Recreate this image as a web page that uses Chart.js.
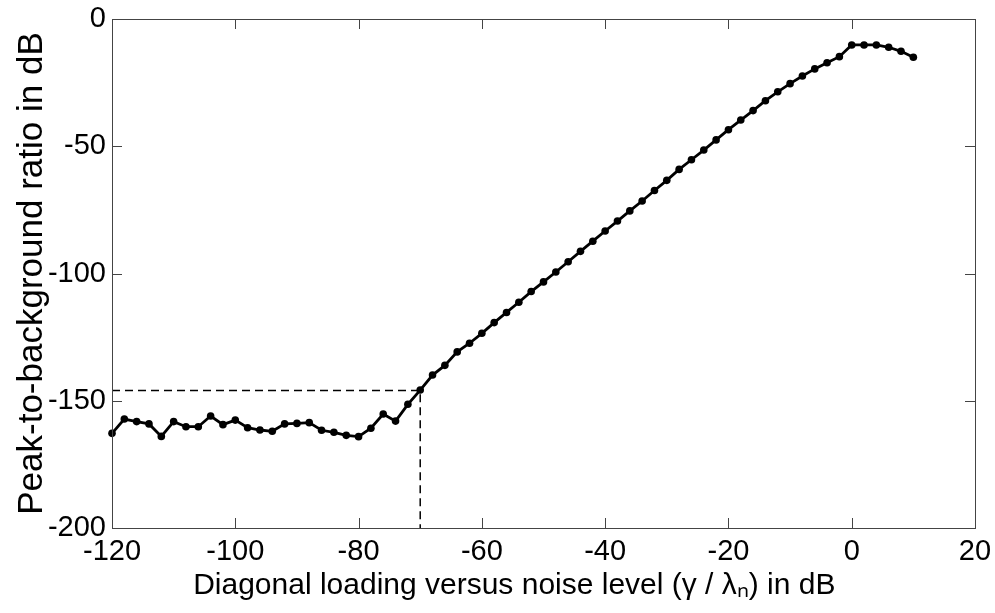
<!DOCTYPE html>
<html>
<head>
<meta charset="utf-8">
<script src="https://cdn.jsdelivr.net/npm/chart.js@4.4.1/dist/chart.umd.min.js"></script>
<style>
  html, body { margin: 0; padding: 0; background: #fff; }
  #wrap { width: 995px; height: 613px; }
</style>
</head>
<body>
<div id="wrap"><canvas id="prChart" width="995" height="613"></canvas></div>
<script>
// loading level (dB), one point every 2 dB
var loading = [-120, -118, -116, -114, -112, -110, -108, -106, -104, -102,
  -100, -98, -96, -94, -92, -90, -88, -86, -84, -82,
  -80, -78, -76, -74, -72, -70, -68, -66, -64, -62,
  -60, -58, -56, -54, -52, -50, -48, -46, -44, -42,
  -40, -38, -36, -34, -32, -30, -28, -26, -24, -22,
  -20, -18, -16, -14, -12, -10, -8, -6, -4, -2,
  0, 2, 4, 6, 8, 10];

// peak-to-background ratio (dB)
var pbr = [-162.8, -157.2, -158.2, -159.1, -164.0, -158.2, -160.2, -160.2, -156.0, -159.4,
  -157.6, -160.6, -161.5, -162.0, -159.1, -158.9, -158.6, -161.6, -162.4, -163.6,
  -164.1, -160.8, -155.2, -158.0, -151.4, -145.8, -139.9, -136.1, -130.8, -127.4,
  -123.5, -119.3, -115.3, -111.3, -107.1, -103.3, -99.4, -95.4, -91.3, -87.3,
  -83.3, -79.4, -75.4, -71.5, -67.4, -63.4, -59.1, -55.3, -51.5, -47.5,
  -43.5, -39.7, -36.0, -32.1, -28.6, -25.4, -22.4, -19.6, -17.2, -14.8,
  -10.2, -10.2, -10.2, -11.1, -12.7, -15.0];

// dashed marker lines
var markX = [-120, -70, -70];
var markY = [-146, -146, -200];

var xTicks = [-120, -100, -80, -60, -40, -20, 0, 20];
var yTicks = [0, -50, -100, -150, -200];

var sans = "'Liberation Sans', Arial, sans-serif";

var mainData = loading.map(function(x, i) { return {x: x, y: pbr[i]}; });
var markData = markX.map(function(x, i) { return {x: x, y: markY[i]}; });

// box round the plot plus inward tick marks, matlab style
var boxPlugin = {
  id: 'box',
  afterDraw: function(chart) {
    var ctx = chart.ctx, a = chart.chartArea;
    var xs = chart.scales.x, ys = chart.scales.y;
    var len = 10;
    ctx.save();
    ctx.strokeStyle = '#444';
    ctx.lineWidth = 1;
    ctx.strokeRect(a.left + 0.5, a.top + 0.5, a.right - a.left, a.bottom - a.top);
    ctx.beginPath();
    xTicks.forEach(function(v) {
      var p = Math.round(xs.getPixelForValue(v)) + 0.5;
      ctx.moveTo(p, a.bottom); ctx.lineTo(p, a.bottom - len);
      ctx.moveTo(p, a.top); ctx.lineTo(p, a.top + len);
    });
    yTicks.forEach(function(v) {
      var p = Math.round(ys.getPixelForValue(v)) + 0.5;
      ctx.moveTo(a.left, p); ctx.lineTo(a.left + len, p);
      ctx.moveTo(a.right, p); ctx.lineTo(a.right - len, p);
    });
    ctx.stroke();
    ctx.restore();
  }
};

var ctx = document.getElementById('prChart').getContext('2d');
var myChart = new Chart(ctx, {
  type: 'line',
  plugins: [boxPlugin],
  data: {
    datasets: [{
      data: mainData,
      borderColor: '#000',
      backgroundColor: '#000',
      borderWidth: 2.8,
      pointRadius: 3.8,
      pointBackgroundColor: '#000',
      pointBorderWidth: 0,
      clip: false,
      tension: 0
    }, {
      data: markData,
      borderColor: '#000',
      borderWidth: 1.5,
      borderDash: [8, 5],
      pointRadius: 0,
      tension: 0
    }]
  },
  options: {
    responsive: false,
    animation: false,
    layout: { padding: 0 },
    plugins: { legend: { display: false }, tooltip: { enabled: false } },
    scales: {
      x: {
        type: 'linear',
        min: -120,
        max: 20,
        afterFit: function(s) { s.height = 85; s.paddingRight = 20; },
        afterBuildTicks: function(s) { s.ticks = xTicks.map(function(v) { return {value: v}; }); },
        grid: { display: false, drawTicks: false },
        border: { display: false },
        ticks: { color: '#000', padding: 7, maxRotation: 0, font: { family: sans, size: 29 } },
        title: {
          display: true,
          text: 'Diagonal loading versus noise level (\u03b3 / \u03bb\u2099) in dB       ',
          color: '#000',
          padding: { top: 0, bottom: 9 },
          font: { family: sans, size: 30 }
        }
      },
      y: {
        min: -200,
        max: 0,
        afterFit: function(s) { s.width = 112; s.paddingTop = 19; },
        afterBuildTicks: function(s) { s.ticks = yTicks.map(function(v) { return {value: v}; }); },
        grid: { display: false, drawTicks: false },
        border: { display: false },
        ticks: { color: '#000', padding: 6, font: { family: sans, size: 29 } },
        title: {
          display: true,
          text: 'Peak-to-background ratio in dB',
          color: '#000',
          padding: { top: 11, bottom: 0 },
          font: { family: sans, size: 35 }
        }
      }
    }
  }
});
</script>
</body>
</html>
